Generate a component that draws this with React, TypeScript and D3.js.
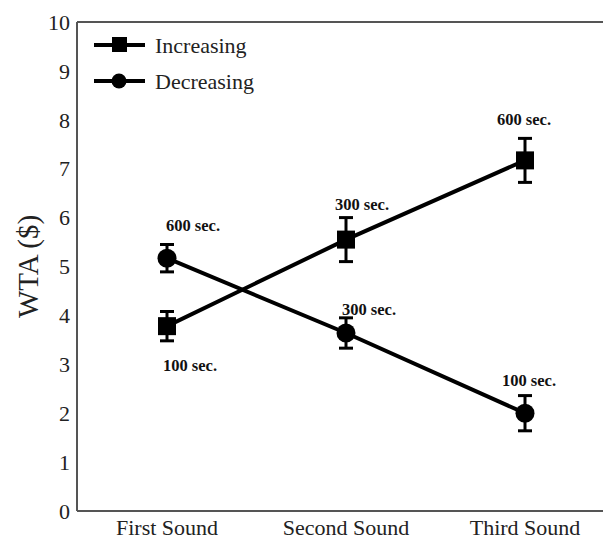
import React from "react";
import * as d3 from "d3";

const categories = ["First Sound", "Second Sound", "Third Sound"];
const increasing = [3.78, 5.55, 7.17];
const increasingErr = [0.3, 0.45, 0.45];
const increasingLabels = ["100 sec.", "300 sec.", "600 sec."];
const decreasing = [5.17, 3.64, 2.0];
const decreasingErr = [0.28, 0.31, 0.36];
const decreasingLabels = ["600 sec.", "300 sec.", "100 sec."];
const yTicks = [0, 1, 2, 3, 4, 5, 6, 7, 8, 9, 10];

const W = 603, H = 539;
const left = 77, right = 603, top = 22, bottom = 511;

// label offsets relative to the marker (styling)
const incOffsets = [[23, 45], [16, -30], [-1, -35]];
const decOffsets = [[26, -27], [23, -18], [4, -27]];

export default function App() {
  const x = d3.scalePoint<string>().domain(categories).range([167, 525]);
  const y = d3.scaleLinear().domain([0, 10]).range([bottom, top]);
  const line = d3.line<number>().x((_, i) => x(categories[i])!).y((d) => y(d));
  const font = "'Liberation Serif', 'DejaVu Serif', serif";

  const errBars = (vals: number[], errs: number[]) =>
    vals.map((v, i) => {
      const cx = x(categories[i])!;
      return (
        <g key={i} stroke="#000" strokeWidth={3}>
          <line x1={cx} x2={cx} y1={y(v + errs[i])} y2={y(v - errs[i])} />
          <line x1={cx - 7} x2={cx + 7} y1={y(v + errs[i])} y2={y(v + errs[i])} />
          <line x1={cx - 7} x2={cx + 7} y1={y(v - errs[i])} y2={y(v - errs[i])} />
        </g>
      );
    });

  return (
    <svg width={W} height={H} style={{ position: "absolute", left: 0, top: 0 }}>
      <rect width={W} height={H} fill="#fff" />
      <line x1={left} x2={right} y1={top} y2={top} stroke="#555" strokeWidth={2} />
      <line x1={left} x2={left} y1={top} y2={bottom} stroke="#555" strokeWidth={2} />
      <line x1={left} x2={right} y1={bottom} y2={bottom} stroke="#555" strokeWidth={2} />
      {yTicks.map((t) => (
        <text key={t} x={70} y={y(t)} dy="0.35em" textAnchor="end" fontFamily={font} fontSize={22} fill="#222">
          {t}
        </text>
      ))}
      {categories.map((c) => (
        <text key={c} x={x(c)} y={535} textAnchor="middle" fontFamily={font} fontSize={22} fill="#222">
          {c}
        </text>
      ))}
      <text transform={`translate(38, ${(top + bottom) / 2}) rotate(-90)`} textAnchor="middle" fontFamily={font} fontSize={29} fill="#222">
        WTA ($)
      </text>
      <path d={line(increasing)!} fill="none" stroke="#000" strokeWidth={4} />
      <path d={line(decreasing)!} fill="none" stroke="#000" strokeWidth={4} />
      {errBars(increasing, increasingErr)}
      {errBars(decreasing, decreasingErr)}
      {increasing.map((v, i) => (
        <rect key={i} x={x(categories[i])! - 9} y={y(v) - 9} width={18} height={18} fill="#000" />
      ))}
      {decreasing.map((v, i) => (
        <circle key={i} cx={x(categories[i])!} cy={y(v)} r={9.5} fill="#000" />
      ))}
      {increasing.map((v, i) => (
        <text key={i} x={x(categories[i])! + incOffsets[i][0]} y={y(v) + incOffsets[i][1]}
          textAnchor="middle" fontFamily={font} fontWeight="bold" fontSize={16.5} fill="#111">
          {increasingLabels[i]}
        </text>
      ))}
      {decreasing.map((v, i) => (
        <text key={i} x={x(categories[i])! + decOffsets[i][0]} y={y(v) + decOffsets[i][1]}
          textAnchor="middle" fontFamily={font} fontWeight="bold" fontSize={16.5} fill="#111">
          {decreasingLabels[i]}
        </text>
      ))}
      <g>
        <line x1={94} x2={145} y1={45} y2={45} stroke="#000" strokeWidth={4} />
        <rect x={112} y={37} width={15} height={15} fill="#000" />
        <text x={155} y={45} dy="0.35em" fontFamily={font} fontSize={22} fill="#222">Increasing</text>
        <line x1={94} x2={145} y1={81} y2={81} stroke="#000" strokeWidth={4} />
        <circle cx={119} cy={81} r={7.5} fill="#000" />
        <text x={155} y={81} dy="0.35em" fontFamily={font} fontSize={22} fill="#222">Decreasing</text>
      </g>
    </svg>
  );
}
